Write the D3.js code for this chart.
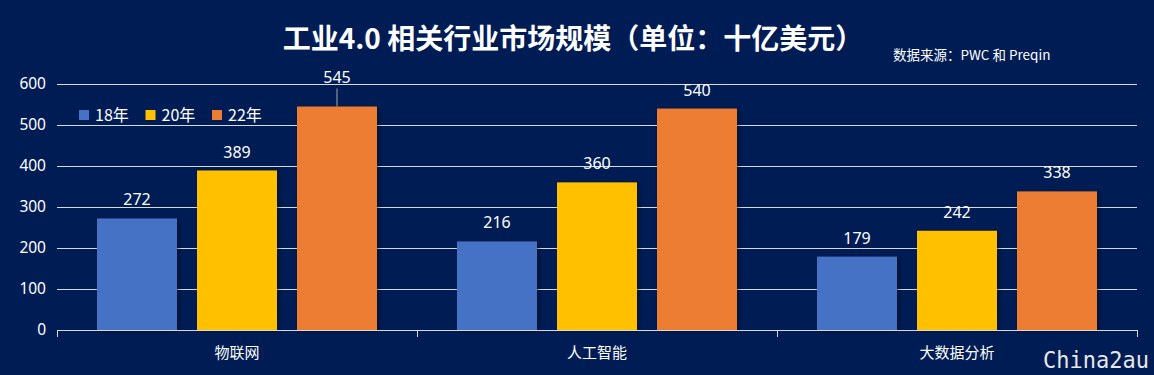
<!DOCTYPE html>
<html lang="zh">
<head>
  <meta charset="UTF-8">
  <title>工业4.0 相关行业市场规模</title>
  <style>
    body {
      margin: 0;
      background-color: #001c54;
      font-family: "Noto Sans CJK SC", "Noto Sans", sans-serif;
    }
  </style>
  <script src="https://d3js.org/d3.v7.min.js"></script>
</head>
<body>
  <div id="chart"></div>
  <script>
    // Data
    const categories = ['物联网', '人工智能', '大数据分析'];
    const seriesNames = ['18年', '20年', '22年'];
    const values18 = [272, 216, 179];
    const values20 = [389, 360, 242];
    const values22 = [545, 540, 338];
    const yTicks = [0, 100, 200, 300, 400, 500, 600];

    const seriesValues = [values18, values20, values22];
    const colors = ['#4472c4', '#ffc000', '#ed7d31'];

    const width = 1154;
    const height = 375;
    const margin = { top: 84, right: 17, bottom: 45, left: 57 };

    const svg = d3.select('#chart')
      .append('svg')
      .attr('width', width)
      .attr('height', height);

    const defs = svg.append('defs');
    const shadow = defs.append('filter')
      .attr('id', 'shadow')
      .attr('x', '-20%').attr('y', '-20%')
      .attr('width', '150%').attr('height', '150%');
    shadow.append('feDropShadow')
      .attr('dx', 2).attr('dy', 1)
      .attr('stdDeviation', 2)
      .attr('flood-color', '#000')
      .attr('flood-opacity', 0.4);

    // Scales
    const x0 = d3.scaleBand()
      .domain(categories)
      .range([margin.left, width - margin.right])
      .paddingInner(0)
      .paddingOuter(0);

    const x1 = d3.scaleBand()
      .domain(seriesNames)
      .range([0, x0.bandwidth()])
      .paddingInner(0.2)
      .paddingOuter(0.4);

    const y = d3.scaleLinear()
      .domain([0, 600])
      .range([height - margin.bottom, margin.top]);

    // Gridlines
    svg.append('g')
      .selectAll('line')
      .data(yTicks)
      .enter()
      .append('line')
      .attr('x1', margin.left)
      .attr('x2', width - margin.right)
      .attr('y1', d => Math.round(y(d)) + 0.5)
      .attr('y2', d => Math.round(y(d)) + 0.5)
      .attr('stroke', '#d9d9d9')
      .attr('stroke-width', 1);

    // Y axis labels
    const yAxis = svg.append('g')
      .attr('transform', `translate(${margin.left}, 0)`)
      .call(d3.axisLeft(y).tickValues(yTicks).tickSize(0).tickPadding(11));
    yAxis.select('.domain').remove();
    yAxis.selectAll('text')
      .attr('fill', '#fff')
      .style('font-size', '15.5px')
      .style('font-family', '"Noto Sans", sans-serif');

    // Bars
    const groups = svg.append('g')
      .selectAll('g')
      .data(categories)
      .enter()
      .append('g')
      .attr('transform', d => `translate(${x0(d)}, 0)`);

    groups.selectAll('rect')
      .data((d, i) => seriesNames.map((s, j) => ({ s, v: seriesValues[j][i], j })))
      .enter()
      .append('rect')
      .attr('x', d => x1(d.s))
      .attr('y', d => y(d.v))
      .attr('width', x1.bandwidth())
      .attr('height', d => y(0) - y(d.v))
      .attr('fill', d => colors[d.j])
      .attr('filter', 'url(#shadow)');

    // Value labels
    groups.selectAll('text')
      .data((d, i) => seriesNames.map((s, j) => ({ s, v: seriesValues[j][i], j })))
      .enter()
      .append('text')
      .attr('x', d => x1(d.s) + x1.bandwidth() / 2)
      .attr('y', d => d.v === 545 ? y(d.v) - 24 : y(d.v) - 13)
      .attr('text-anchor', 'middle')
      .attr('fill', '#fff')
      .style('font-size', '16px')
      .style('font-family', '"Noto Sans", sans-serif')
      .text(d => d.v);

    // Leader line for the moved 545 label
    const leader = { cat: categories[0], s: seriesNames[2], v: values22[0] };
    svg.append('line')
      .attr('x1', x0(leader.cat) + x1(leader.s) + x1.bandwidth() / 2)
      .attr('x2', x0(leader.cat) + x1(leader.s) + x1.bandwidth() / 2)
      .attr('y1', y(leader.v) - 18)
      .attr('y2', y(leader.v))
      .attr('stroke', '#a6a6a6')
      .attr('stroke-width', 1);

    // X axis
    const xAxisY = y(0);
    svg.append('line')
      .attr('x1', margin.left)
      .attr('x2', width - margin.right)
      .attr('y1', Math.round(xAxisY) + 0.5)
      .attr('y2', Math.round(xAxisY) + 0.5)
      .attr('stroke', '#d9d9d9');

    const boundaries = categories.map(c => x0(c)).concat([x0(categories[2]) + x0.bandwidth()]);
    svg.append('g')
      .selectAll('line')
      .data(boundaries)
      .enter()
      .append('line')
      .attr('x1', d => Math.round(d) + 0.5)
      .attr('x2', d => Math.round(d) + 0.5)
      .attr('y1', Math.round(xAxisY))
      .attr('y2', Math.round(xAxisY) + 7)
      .attr('stroke', '#d9d9d9');

    svg.append('g')
      .selectAll('text')
      .data(categories)
      .enter()
      .append('text')
      .attr('x', d => x0(d) + x0.bandwidth() / 2)
      .attr('y', xAxisY + 28)
      .attr('text-anchor', 'middle')
      .attr('fill', '#fff')
      .style('font-size', '15px')
      .text(d => d);

    // Legend
    const legend = svg.append('g')
      .attr('transform', 'translate(79, 110)');
    const legendItem = legend.selectAll('g')
      .data(seriesNames)
      .enter()
      .append('g')
      .attr('transform', (d, i) => `translate(${i * 66.5}, 0)`);
    legendItem.append('rect')
      .attr('width', 10)
      .attr('height', 10)
      .attr('fill', (d, i) => colors[i]);
    legendItem.append('text')
      .attr('x', 16)
      .attr('y', 11)
      .attr('fill', '#fff')
      .style('font-size', '16px')
      .text(d => d);

    // Title
    svg.append('text')
      .attr('x', 573)
      .attr('y', 49)
      .attr('text-anchor', 'middle')
      .attr('fill', '#fff')
      .style('font-size', '28px')
      .style('font-weight', 'bold')
      .text('工业4.0 相关行业市场规模（单位：十亿美元）');

    svg.append('text')
      .attr('x', 893)
      .attr('y', 60)
      .attr('fill', '#fff')
      .style('font-size', '13.5px')
      .text('数据来源：PWC 和 Preqin');

    // Watermark
    svg.append('text')
      .attr('x', 1043)
      .attr('y', 368)
      .attr('fill', '#e8e8e8')
      .style('font-size', '23px')
      .style('font-family', '"DejaVu Sans Mono", monospace')
      .attr('textLength', 106)
      .attr('lengthAdjust', 'spacingAndGlyphs')
      .text('China2au');
  </script>
</body>
</html>
